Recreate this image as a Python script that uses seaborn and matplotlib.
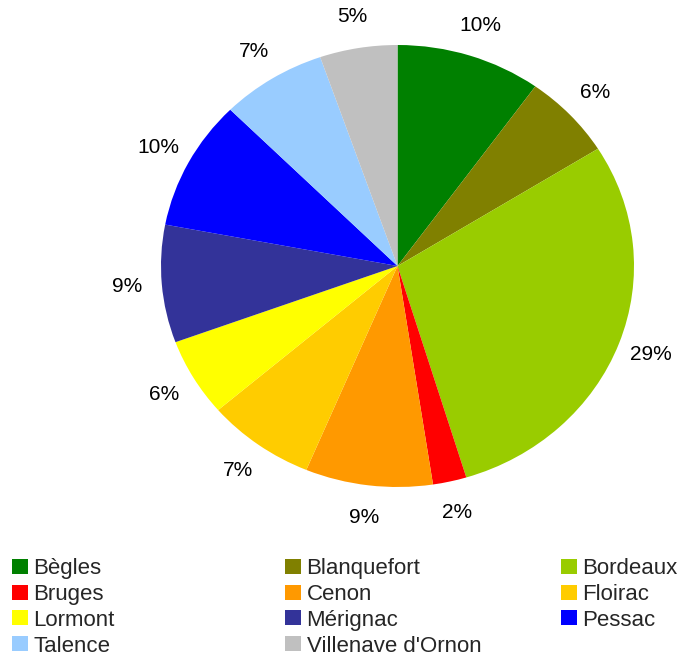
import matplotlib
matplotlib.use("Agg")
import matplotlib.pyplot as plt
import seaborn as sns
from matplotlib.patches import Patch

communes = ["Bègles", "Blanquefort", "Bordeaux", "Bruges", "Cenon", "Floirac",
            "Lormont", "Mérignac", "Pessac", "Talence", "Villenave d'Ornon"]
shares = [9.9, 6.2, 29.2, 2.3, 8.7, 7.4, 5.7, 8.6, 9.5, 7.2, 5.3]
colors = ["#008000", "#808000", "#99cc00", "#ff0000", "#ff9900", "#ffcc00",
          "#ffff00", "#333399", "#0000ff", "#99ccff", "#c0c0c0"]

sns.set_style("white")
plt.rcParams["font.family"] = ["Liberation Sans", "DejaVu Sans"]

fig = plt.figure(figsize=(6.88, 6.56), dpi=100)
ax = fig.add_axes([161 / 688, 169 / 656, 473 / 688, 442 / 656])
wedges, texts, autotexts = ax.pie(
    shares, colors=colors, startangle=90, counterclock=False,
    autopct=lambda p: f"{p:.0f}%", pctdistance=1.145,
    wedgeprops=dict(linewidth=0, edgecolor="none"),
    textprops=dict(fontsize=15, color="#000000"))
ax.set_xlim(-1, 1)
ax.set_ylim(-1, 1)
ax.set_aspect("auto")
ax.axis("off")

cols = [[0, 3, 6, 9], [1, 4, 7, 10], [2, 5, 8]]
xs = [12, 285, 561]
for col, x in zip(cols, xs):
    handles = [Patch(facecolor=colors[i], edgecolor="none") for i in col]
    labels = [communes[i] for i in col]
    fig.legend(handles, labels, loc="upper left",
               bbox_to_anchor=(x / 688, (656 - 558) / 656),
               frameon=False, fontsize=16, borderpad=0, borderaxespad=0,
               handlelength=0.7, handleheight=0.66, handletextpad=0.27,
               labelspacing=0.22)

fig.savefig("out.png", dpi=100)
